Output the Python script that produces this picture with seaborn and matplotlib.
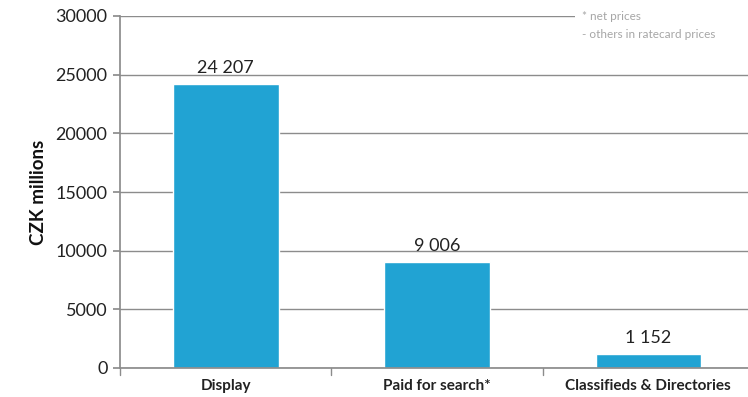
import matplotlib
matplotlib.use("Agg")
import matplotlib.pyplot as plt
import matplotlib.patches as mpatches
import seaborn as sns
import pandas as pd

categories = ["Display", "Paid for search*", "Classifieds & Directories"]
values = [24207, 9006, 1152]
labels = ["24 207", "9 006", "1 152"]
yticks = [0, 5000, 10000, 15000, 20000, 25000, 30000]

sns.set_theme(style="white")
plt.rcParams['font.family'] = ['Lato', 'DejaVu Sans']

df = pd.DataFrame({"cat": categories, "val": values})
fig = plt.figure(figsize=(7.48, 3.97), dpi=100)
ax = fig.add_axes([120/748, 1-368/397, (754-120)/748, (368-16)/397])
sns.barplot(data=df, x="cat", y="val", color="#21A3D3", width=0.5, saturation=1, ax=ax)
ax.set_xlim(-0.5, 2.5)
ax.set_ylim(0, 30000)
ax.set_yticks(yticks)
ax.set_yticklabels([str(t) for t in yticks], fontsize=13, color="#222222")
ax.yaxis.grid(True, color="#8c8c8c", linewidth=1)
ax.set_axisbelow(True)
for s in ["top", "right"]:
    ax.spines[s].set_visible(False)
ax.spines["left"].set_color("#8c8c8c")
ax.spines["bottom"].set_color("#8c8c8c")
ax.tick_params(axis="y", length=5, color="#8c8c8c", left=True, pad=4)
ax.set_xticks([0, 1, 2])
ax.set_xticklabels(categories, fontsize=11, fontweight="bold", color="#222222")
ax.tick_params(axis="x", length=0, pad=8)
for b in [-0.5, 0.5, 1.5]:
    ax.plot([b, b], [0, -0.02], transform=ax.get_xaxis_transform(), color="#8c8c8c", lw=1, clip_on=False)
ax.set_xlabel("")
ax.set_ylabel("CZK millions", fontsize=13.5, fontweight="bold", color="#111111", labelpad=6)
for i, (v, l) in enumerate(zip(values, labels)):
    ax.text(i, v + 700, l, ha="center", va="bottom", fontsize=13, color="#222222")
fig.patches.append(mpatches.Rectangle((575/748, 1-46/397), 173/748, 40/397,
                                      transform=fig.transFigure, facecolor="white",
                                      edgecolor="none", zorder=5))
fig.text(582/748, 1-16/397, "* net prices", fontsize=8.5, color="#a6a6a6", va="center", zorder=6)
fig.text(582/748, 1-35/397, "- others in ratecard prices", fontsize=8.5, color="#a6a6a6", va="center", zorder=6)
fig.savefig("out.png", dpi=100)
